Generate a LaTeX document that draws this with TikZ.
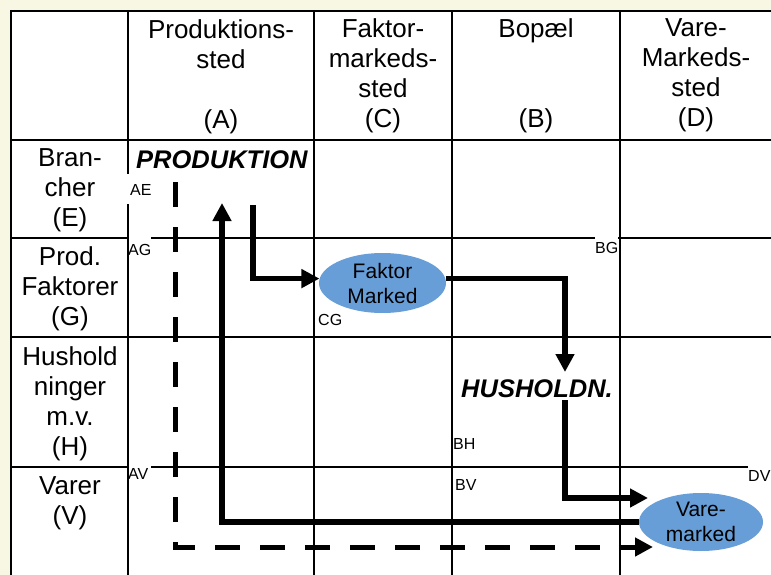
\documentclass[tikz,border=0pt]{standalone}
\usepackage{fontspec}
\setmainfont{Liberation Sans}
\usetikzlibrary{arrows.meta,shapes.geometric}
\definecolor{cream}{RGB}{248,247,228}
\definecolor{mblue}{RGB}{104,158,216}
\begin{document}
\begin{tikzpicture}[x=1pt,y=-1pt,
  gridline/.style={line width=1.4pt, line cap=rect},
  hdr/.style={font=\fontsize{26}{30}\selectfont, align=center, anchor=north, inner sep=0pt},
  big/.style={font=\fontsize{25.5}{28}\selectfont\bfseries\itshape, anchor=base west, inner sep=0pt},
  lab/.style={font=\fontsize{16}{18}\selectfont, anchor=base west, inner sep=0pt},
  mkt/.style={ellipse, fill=mblue, inner sep=0pt, align=center, font=\fontsize{21}{25}\selectfont},
  arr/.style={line width=5.5pt, -{Triangle[length=18pt,width=18pt]}},
  darr/.style={line width=5pt, dash pattern=on 25pt off 20pt, -{Triangle[length=18pt,width=18pt]}}
]
\useasboundingbox (0,0) rectangle (771,575);
\fill[cream] (0,0) rectangle (771,575);
\fill[white] (11,11) rectangle (790,590);

% grid
\draw[gridline] (11,11) -- (790,11);
\draw[gridline] (11,140) -- (790,140);
\draw[gridline] (11,238) -- (128,238) (152,238) -- (594,238) (619,238) -- (790,238);
\draw[gridline] (11,337) -- (790,337);
\draw[gridline] (11,467) -- (128,467) (152,467) -- (747,467);
\draw[gridline] (11,11) -- (11,590);
\draw[gridline] (128,11) -- (128,173) (128,205) -- (128,590);
\draw[gridline] (314,11) -- (314,590);
\draw[gridline] (452,11) -- (452,590);
\draw[gridline] (620,11) -- (620,590);

% headers
\node[hdr] (hA) at (221,19) {Produktions-\\sted\\[30pt](A)};
\node[hdr] (hC) at (383,18.5) {Faktor-\\markeds-\\sted\\(C)};
\node[hdr] (hB) at (536,18.5) {Bopæl\\[60pt](B)};
\node[hdr] (hD) at (696,18.5) {Vare-\\Markeds-\\sted\\(D)};

% row labels
\node[hdr] (rE) at (70,148.5) {Bran-\\cher\\(E)};
\node[hdr] (rG) at (70,246.5) {Prod.\\Faktorer\\(G)};
\node[hdr] (rH) at (70,346.5) {Hushold\\ninger\\m.v.\\(H)};
\node[hdr] (rV) at (70,476.5) {Varer\\(V)};

% cell labels
\node[lab] (lAE) at (130,195) {AE};
\node[lab] (lAG) at (128,255) {AG};
\node[lab] (lCG) at (318,325) {CG};
\node[lab] (lBG) at (595,253) {BG};
\node[lab] (lBH) at (453,449) {BH};
\node[lab] (lBV) at (455,490) {BV};
\node[lab] (lAV) at (128,479) {AV};
\node[lab] (lDV) at (748,481) {DV};

% big labels
\node[big] (prod) at (136,168) {PRODUKTION};
\node[big] (hush) at (461,397) {HUSHOLDN.};

% markets
\node[mkt, minimum width=127pt, minimum height=60pt] (fm) at (382.5,283) {Faktor\\Marked};
\node[mkt, minimum width=124pt, minimum height=58pt] (vm) at (701,522) {Vare-\\marked};

% coordinates
\coordinate (c1) at (253,205);
\coordinate (c2) at (565,372);
\coordinate (c3) at (565,400);
\coordinate (c4) at (648,498);
\coordinate (c5) at (222,203);
\coordinate (c6) at (175,182);
\coordinate (c7) at (653,547);

% flows
\draw[darr] (c6) |- (c7);
\draw[arr] (vm.west) -| (c5);
\draw[arr] (c1) |- (fm.176);
\draw[arr] (fm.4) -| (c2);
\draw[arr] (c3) |- (c4);
\end{tikzpicture}
\end{document}
